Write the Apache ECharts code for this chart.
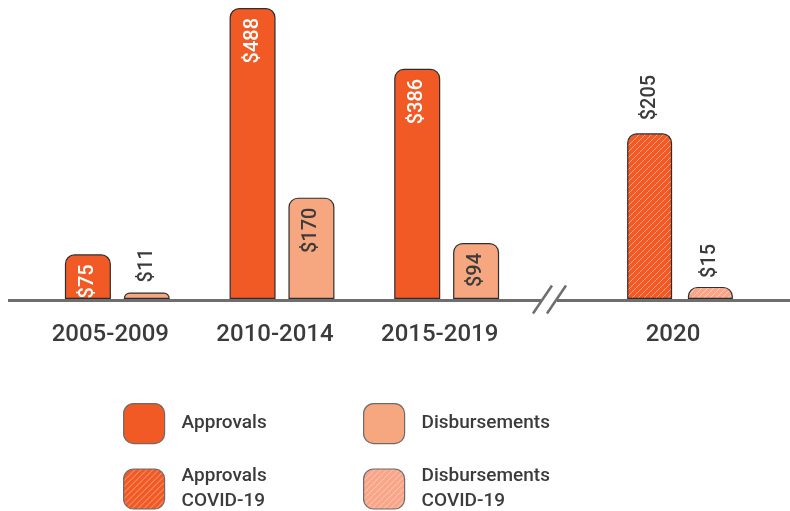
<!DOCTYPE html>
<html><head><meta charset="utf-8">
<script src="https://cdn.jsdelivr.net/npm/echarts@6/dist/echarts.min.js"></script>
<style>html,body{margin:0;padding:0;background:#fff}#c{width:790px;height:511px}</style>
</head><body><div id="c"></div>
<script>
const periods = ['2005-2009', '2010-2014', '2015-2019'];
const covidPeriod = ['2020'];
const approvals = [75, 488, 386];
const disbursements = [11, 170, 94];
const approvalsCovid = [205];
const disbursementsCovid = [15];

const ORANGE = '#F15A24', PEACH = '#F7A77F', PEACH_C = '#F8A588';
const TXT = '#3b3b3b';
const FONT = 'Roboto';

function hatch(base, alpha) {
  const s = 6, cv = document.createElement('canvas');
  cv.width = s; cv.height = s;
  const g = cv.getContext('2d');
  g.fillStyle = base; g.fillRect(0, 0, s, s);
  g.strokeStyle = 'rgba(255,255,255,' + alpha + ')';
  g.lineWidth = 0.8;
  g.beginPath();
  g.moveTo(-1, s + 1); g.lineTo(s + 1, -1);
  g.moveTo(-1, 1); g.lineTo(1, -1);
  g.moveTo(s - 1, s + 1); g.lineTo(s + 1, s - 1);
  g.stroke();
  return { image: cv, repeat: 'repeat' };
}

const labelBase = {
  show: true, rotate: 90, fontFamily: FONT, fontSize: 20, fontWeight: 500,
  formatter: p => '$' + p.value
};
const insideLbl = c => Object.assign({}, labelBase, { position: 'insideTop', align: 'right', verticalAlign: 'middle', distance: 10, color: c });
const outsideLbl = d => Object.assign({}, labelBase, { position: 'top', align: 'left', verticalAlign: 'middle', distance: d, color: TXT });

function items(arr, inColor) {
  return arr.map(v => ({ value: v, label: v > 50 ? insideLbl(inColor) : outsideLbl(10) }));
}

const barStyle = c => ({ color: c, borderColor: '#2e2e2e', borderWidth: 1.2, borderRadius: [9, 9, 0, 0] });

const axisX = (data, gi) => ({
  type: 'category', gridIndex: gi, data: data,
  axisLine: { show: false }, axisTick: { show: false },
  axisLabel: { fontFamily: FONT, fontSize: 24, fontWeight: 500, color: TXT, margin: 24, padding: [0, 14, 0, 0] }
});
const axisY = (gi, max) => ({ type: 'value', gridIndex: gi, min: 0, max: max, show: false, splitLine: { show: false } });

const legendCommon = {
  orient: 'vertical', padding: 0, itemWidth: 41, itemHeight: 40, icon: 'roundRect',
  textStyle: { fontFamily: FONT, fontSize: 19, fontWeight: 500, color: TXT, lineHeight: 25, padding: [0, 0, 0, 12] },
  itemStyle: { borderColor: '#6b6b6b', borderWidth: 1.2 },
  selectedMode: false,
  formatter: n => n.replace(' COVID', '\nCOVID')
};

const chart = echarts.init(document.getElementById('c'), null, { renderer: 'canvas' });
chart.setOption({
  animation: false,
  grid: [
    { left: 35, width: 494, top: 8, bottom: 212 },
    { left: 598, width: 164, top: 8, bottom: 212 }
  ],
  xAxis: [axisX(periods, 0), axisX(covidPeriod, 1)],
  yAxis: [axisY(0, 488), axisY(1, 360)],
  legend: [
    Object.assign({}, legendCommon, { data: ['Approvals'], left: 123, top: 403 }),
    Object.assign({}, legendCommon, { data: ['Disbursements'], left: 363, top: 403 }),
    Object.assign({}, legendCommon, { data: ['Approvals COVID-19'], left: 123, top: 464 }),
    Object.assign({}, legendCommon, { data: ['Disbursements COVID-19'], left: 363, top: 464 })
  ],
  series: [
    { name: 'Approvals', type: 'bar', xAxisIndex: 0, yAxisIndex: 0, barWidth: 46, barGap: '28%',
      itemStyle: barStyle(ORANGE), data: items(approvals, '#ffffff') },
    { name: 'Disbursements', type: 'bar', xAxisIndex: 0, yAxisIndex: 0, barWidth: 46, barGap: '28%',
      itemStyle: barStyle(PEACH), data: items(disbursements, TXT) },
    { name: 'Approvals COVID-19', type: 'bar', xAxisIndex: 1, yAxisIndex: 1, barWidth: 45, barGap: '35%',
      itemStyle: barStyle(hatch(ORANGE, 0.55)), data: approvalsCovid.map(v => ({ value: v, label: outsideLbl(13) })) },
    { name: 'Disbursements COVID-19', type: 'bar', xAxisIndex: 1, yAxisIndex: 1, barWidth: 45, barGap: '35%',
      itemStyle: barStyle(hatch(PEACH_C, 0.55)), data: disbursementsCovid.map(v => ({ value: v, label: outsideLbl(9) })) }
  ]
});

// baseline with axis break, positioned from the grid's own zero
const y0 = chart.convertToPixel({ gridIndex: 0 }, [0, 0])[1] + 1.5;
const LINE = { stroke: '#6e6e6e', lineWidth: 3 };
chart.setOption({
  graphic: [
    { type: 'line', z: 10, shape: { x1: 8, y1: y0, x2: 541, y2: y0 }, style: LINE },
    { type: 'line', z: 10, shape: { x1: 557, y1: y0, x2: 790, y2: y0 }, style: LINE },
    { type: 'line', z: 10, shape: { x1: 533, y1: y0 + 13, x2: 552, y2: y0 - 15 }, style: { stroke: '#6e6e6e', lineWidth: 2.5 } },
    { type: 'line', z: 10, shape: { x1: 547, y1: y0 + 13, x2: 566, y2: y0 - 15 }, style: { stroke: '#6e6e6e', lineWidth: 2.5 } }
  ]
});
</script></body></html>
